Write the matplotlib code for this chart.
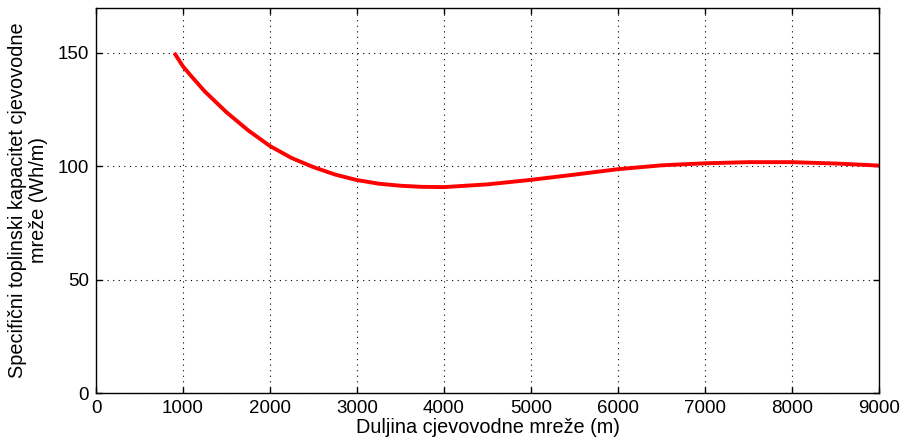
import matplotlib
matplotlib.use("Agg")
import matplotlib.pyplot as plt

# Data
x_vals = [900, 1000, 1100, 1250, 1500, 1750, 2000, 2250, 2500, 2750, 3000, 3250, 3500,
          3750, 4000, 4500, 5000, 5500, 6000, 6500, 7000, 7500, 8000, 8500, 9000]
y_vals = [150, 144.0, 139.5, 133.0, 123.8, 115.8, 108.9, 103.6, 99.6, 96.3, 93.9, 92.3, 91.4,
          90.9, 90.8, 92.0, 94.0, 96.3, 98.7, 100.4, 101.3, 101.8, 101.8, 101.2, 100.3]
x_ticks = [0, 1000, 2000, 3000, 4000, 5000, 6000, 7000, 8000, 9000]
y_ticks = [0, 50, 100, 150]
x_label = "Duljina cjevovodne mreže (m)"
y_label = "Specifični toplinski kapacitet cjevovodne\nmreže (Wh/m)"

plt.rcParams['font.family'] = ['Liberation Sans', 'DejaVu Sans']

fig = plt.figure(figsize=(9.01, 4.43), dpi=100)
ax = fig.add_axes([96/901, 1-393/443, (879-96)/901, (393-7.5)/443])
ax.plot(x_vals, y_vals, color='#ff0000', linewidth=2.8, solid_capstyle='butt')
ax.set_xlim(0, 9000)
ax.set_ylim(0, 170)
ax.set_xticks(x_ticks)
ax.set_yticks(y_ticks)
ax.tick_params(direction='in', length=4, width=1, labelsize=13.5, top=True, right=True,
               pad=5)
ax.grid(True, color='black', linestyle=(0, (1, 4)), linewidth=0.8)
for s in ax.spines.values():
    s.set_color('black')
    s.set_linewidth(1)
ax.set_xlabel(x_label, fontsize=14.3, labelpad=1)
ax.set_ylabel(y_label, fontsize=14.3, labelpad=7, linespacing=1.1)
fig.savefig("out.png", dpi=100)
